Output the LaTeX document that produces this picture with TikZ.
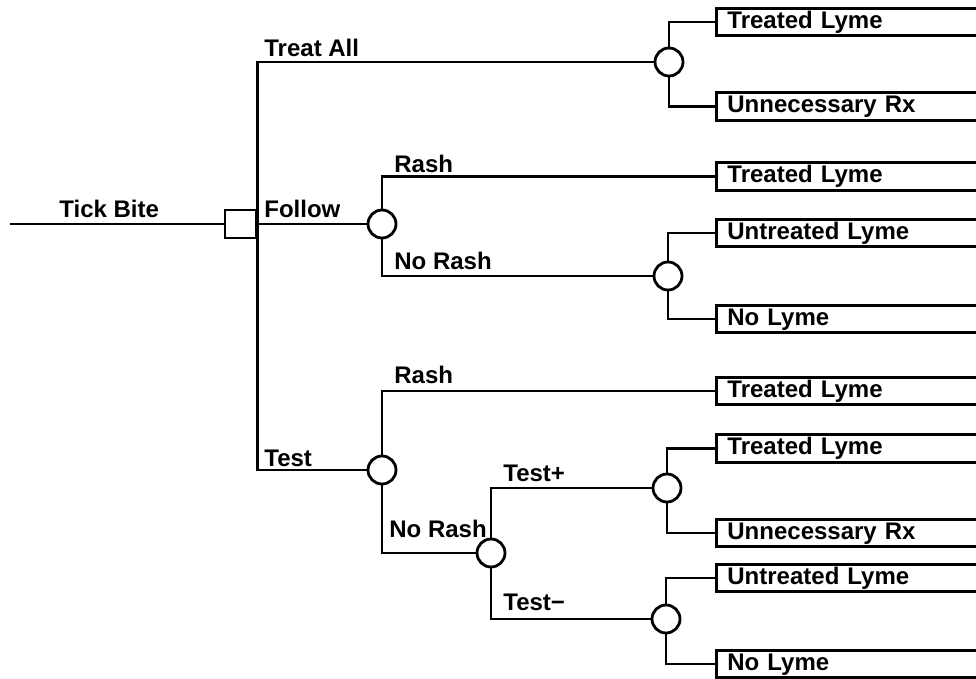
\documentclass[tikz,border=0pt]{standalone}
\usepackage{fontspec}
\setmainfont{Liberation Sans}

\begin{document}
\begin{tikzpicture}[x=1pt,y=-1pt,line width=2.8pt,
    every node/.style={font=\fontsize{24}{29}\selectfont\bfseries},
    choice/.style={draw,rectangle,minimum width=31pt,minimum height=28pt,inner sep=0},
    chance/.style={draw,circle,minimum size=28pt,inner sep=0},
    outcome/.style={draw,rectangle,anchor=west,text width=278pt,inner xsep=11pt,
        inner ysep=2.5pt,align=left,text height=17.5pt,text depth=5pt},
    lbl/.style={anchor=base west,inner sep=0}]
    \useasboundingbox (0,0) rectangle (976,679);
    \clip (0,0) rectangle (976,679);

    % decision and chance nodes
    \coordinate (root) at (10,224);
    \node[choice] (dec) at (240.5,224) {};
    \node[chance] (c1)  at (669,62)  {};
    \node[chance] (c2)  at (382,224) {};
    \node[chance] (c2b) at (668,276) {};
    \node[chance] (c3)  at (382,470) {};
    \node[chance] (c4)  at (491,553) {};
    \node[chance] (c5)  at (667,488) {};
    \node[chance] (c6)  at (666,619) {};

    % outcomes
    \node[outcome] (o1)  at (715,22)    {Treated Lyme};
    \node[outcome] (o2)  at (715,106.5) {Unnecessary Rx};
    \node[outcome] (o3)  at (715,176.5) {Treated Lyme};
    \node[outcome] (o4)  at (715,233)   {Untreated Lyme};
    \node[outcome] (o5)  at (715,319)   {No Lyme};
    \node[outcome] (o6)  at (715,391)   {Treated Lyme};
    \node[outcome] (o7)  at (715,448.5) {Treated Lyme};
    \node[outcome] (o8)  at (715,533)   {Unnecessary Rx};
    \node[outcome] (o9)  at (715,578)   {Untreated Lyme};
    \node[outcome] (o10) at (715,664)   {No Lyme};

    % branches
    \draw (root) -- (dec.west);
    \draw (c1.west) -| (dec.east) |- (c3.west);
    \draw (dec.east) -- (c2.west);
    \draw (c1.north) |- (o1.west);
    \draw (c1.south) |- (o2.west);
    \draw (c2.north) |- (o3.west);
    \draw (c2.south) |- (c2b.west);
    \draw (c2b.north) |- (o4.west);
    \draw (c2b.south) |- (o5.west);
    \draw (c3.north) |- (o6.west);
    \draw (c3.south) |- (c4.west);
    \draw (c4.north) |- (c5.west);
    \draw (c4.south) |- (c6.west);
    \draw (c5.north) |- (o7.west);
    \draw (c5.south) |- (o8.west);
    \draw (c6.north) |- (o9.west);
    \draw (c6.south) |- (o10.west);

    % branch labels
    \node[lbl] (lTick)    at (58,217)  {Tick Bite};
    \node[lbl] (lTreat)   at (263,57)  {Treat All};
    \node[lbl] (lFollow)  at (263,217) {Follow};
    \node[lbl] (lTest)    at (263,466) {Test};
    \node[lbl] (lRashA)   at (393,172) {Rash};
    \node[lbl] (lNoRashA) at (393,269) {No Rash};
    \node[lbl] (lRashB)   at (393,383) {Rash};
    \node[lbl] (lNoRashB) at (388,537) {No Rash};
    \node[lbl] (lPos)     at (502,481) {Test+};
    \node[lbl] (lNeg)     at (502,610) {Test−};
\end{tikzpicture}
\end{document}
